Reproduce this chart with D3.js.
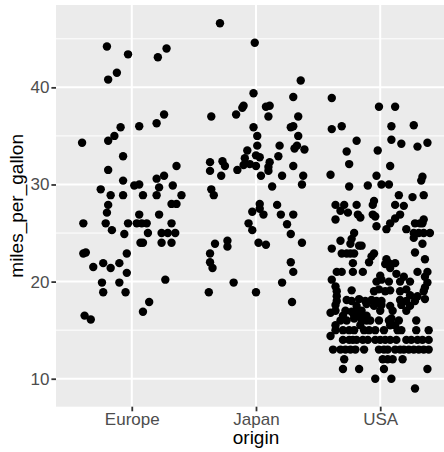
<!DOCTYPE html>
<html>
<head>
<meta charset="utf-8">
<script src="https://cdn.jsdelivr.net/npm/d3@7"></script>
<style>
  html, body { margin: 0; padding: 0; background: #ffffff; }
  svg { display: block; }
</style>
</head>
<body>
<svg id="chart" width="444" height="452"></svg>
<script>
// ---- data: [jitter offset in category units, miles_per_gallon]
const origins = ["Europe", "Japan", "USA"];
const yTicks = [10, 20, 30, 40];
const yMinor = [15, 25, 35, 45];

const europe = [
  [-0.20,44.2],[-0.03,43.4],[0.28,44.0],[0.21,43.1],[-0.12,41.5],[-0.19,40.8],
  [0.26,37.2],[0.20,36.3],[-0.09,35.9],[0.06,36.0],[-0.14,35.0],[-0.19,34.5],
  [-0.40,34.3],[-0.07,32.9],[0.36,31.9],[-0.19,31.5],[0.26,30.9],[0.20,30.6],
  [-0.07,30.4],[0.02,29.9],[0.06,30.0],[0.22,29.7],[0.33,29.9],[-0.25,29.5],
  [-0.17,28.9],[-0.07,28.9],[0.09,28.9],[0.20,28.9],[0.40,28.9],[-0.19,27.9],
  [0.32,28.0],[0.36,28.0],[-0.20,27.1],[0.06,26.9],[0.22,26.9],[-0.39,26.0],
  [-0.21,26.0],[-0.03,26.0],[0.04,26.0],[0.08,26.0],[0.12,26.0],[0.32,26.0],
  [-0.16,25.3],[-0.06,24.9],[0.13,25.0],[0.24,25.0],[0.29,25.0],[0.35,25.0],
  [0.07,24.0],[0.09,24.0],[0.24,24.0],[0.32,24.0],[-0.39,22.9],[-0.37,23.0],
  [-0.04,22.9],[-0.23,21.9],[-0.10,21.9],[-0.31,21.5],[-0.17,21.4],[-0.04,20.9],
  [-0.24,19.9],[-0.10,19.9],[0.27,20.2],[-0.23,18.9],[-0.05,18.9],[0.14,17.9],
  [0.09,16.9],[-0.38,16.5],[-0.33,16.1]
];

const japan = [
  [-0.29,46.6],[-0.01,44.6],[0.36,40.7],[-0.02,39.4],[0.30,39.0],[-0.11,37.9],
  [-0.10,38.1],[0.08,38.0],[0.11,38.1],[-0.36,37.0],[-0.16,37.2],[0.10,37.0],
  [0.34,37.0],[-0.02,35.9],[0.28,35.9],[0.30,36.0],[0.01,35.0],[0.34,35.0],
  [0.01,34.0],[0.19,34.0],[0.31,33.7],[0.33,34.0],[0.39,33.6],[-0.07,33.5],
  [-0.09,32.7],[0.00,33.0],[0.03,32.8],[0.18,32.9],[-0.37,32.3],[-0.27,32.4],
  [-0.25,31.9],[-0.10,32.0],[-0.05,32.1],[0.00,31.9],[0.11,32.3],[0.10,31.8],
  [0.10,31.4],[0.30,31.9],[-0.15,31.5],[-0.37,31.4],[-0.28,30.9],[0.04,30.9],
  [0.21,30.9],[0.38,30.9],[0.37,30.0],[0.13,29.8],[-0.36,29.5],[-0.34,28.9],
  [0.03,28.0],[0.17,27.9],[0.03,27.5],[-0.03,27.2],[0.06,26.9],[0.20,26.9],
  [0.30,26.9],[-0.06,26.0],[0.25,25.9],[-0.03,25.3],[0.28,24.9],[-0.33,23.9],
  [-0.23,24.2],[-0.23,23.6],[0.02,24.0],[0.08,23.8],[0.37,24.0],[-0.37,22.9],
  [-0.37,22.0],[-0.35,21.4],[0.28,22.0],[0.30,21.0],[-0.18,19.9],[0.21,19.9],
  [-0.38,18.9],[0.00,18.9],[0.29,17.9]
];

const usa = [
  [-0.39,38.9],[-0.01,38.0],[0.12,38.0],[-0.39,35.7],[-0.31,36.0],[0.09,36.0],
  [0.27,36.1],[-0.19,34.5],[0.09,34.6],[0.17,34.2],[0.30,33.9],[0.38,34.3],
  [-0.27,33.4],[-0.02,33.5],[-0.25,32.1],[0.08,31.9],[-0.40,31.0],[-0.03,30.9],
  [0.34,30.8],[0.33,30.4],[-0.25,29.8],[-0.10,29.9],[0.01,30.0],[0.07,30.0],
  [0.15,28.9],[0.26,28.7],[0.35,28.9],[-0.36,27.9],[-0.29,27.9],[-0.19,27.9],
  [-0.05,28.3],[-0.06,27.9],[0.12,27.9],[0.19,27.8],[-0.32,27.3],[-0.26,27.1],
  [-0.18,26.9],[-0.16,26.6],[-0.06,26.9],[-0.04,26.7],[0.16,26.9],[0.12,26.5],
  [-0.36,26.4],[0.35,26.4],[0.28,26.0],[0.32,26.0],[0.34,26.0],[0.08,26.0],
  [-0.03,25.7],[0.05,25.4],[0.21,25.4],[0.27,25.0],[0.31,25.0],[0.35,25.0],
  [0.40,25.0],[0.27,24.5],[-0.21,25.0],[-0.23,24.4],[-0.32,24.2],[-0.24,23.9],
  [-0.17,23.7],[-0.15,23.7],[0.34,23.9],[-0.39,23.4],[-0.31,22.9],[-0.27,22.9],
  [-0.24,22.9],[-0.21,22.9],[-0.05,22.9],[-0.07,22.6],[0.28,23.0],[0.36,22.3],
  [-0.09,22.0],[-0.22,21.9],[0.05,22.3],[0.07,21.9],[0.04,21.8],[0.12,21.9],
  [0.08,21.4],[-0.35,21.0],[-0.31,21.0],[-0.22,21.0],[-0.14,21.0],[0.00,20.6],
  [0.13,20.8],[0.30,21.0],[0.38,21.0],[0.19,20.5],[0.36,20.5],
  [-0.39,20.2],[-0.03,20.0],[0.01,20.2],[0.07,20.0],[0.16,20.0],[0.24,20.0],[0.38,19.9],
  [-0.36,19.5],[0.36,19.4],
  [-0.35,19.0],[-0.23,19.1],[-0.05,19.0],[-0.01,19.2],[0.04,19.0],[0.08,19.1],[0.16,19.0],[0.21,19.2],[0.35,19.0],
  [-0.35,18.5],[0.24,18.6],[0.30,18.5],[0.36,18.2],
  [-0.35,18.0],[-0.27,18.1],[-0.23,18.0],[-0.17,18.2],[-0.12,18.0],[-0.07,18.1],[-0.03,18.0],[0.01,18.0],[0.16,18.1],[0.21,18.0],[0.28,18.0],
  [-0.36,17.6],[-0.19,17.5],[-0.11,17.7],[-0.05,17.5],[0.01,17.6],[0.08,17.5],[0.17,17.6],[0.24,17.5],
  [-0.40,16.8],[-0.36,17.0],[-0.28,17.0],[-0.23,16.9],[-0.19,17.0],[-0.15,17.0],[0.00,17.0],[0.10,17.0],[0.21,17.0],
  [-0.30,16.5],[-0.21,16.5],[-0.16,16.5],[-0.11,16.5],
  [-0.32,16.0],[-0.27,16.0],[-0.21,16.2],[-0.15,16.0],[-0.11,16.0],[-0.08,16.0],[-0.01,16.0],[0.07,16.0],[0.09,16.2],[0.15,16.0],[0.29,16.0],
  [-0.36,15.5],[-0.16,15.5],[0.08,15.5],[0.12,15.5],
  [-0.36,15.0],[-0.30,15.0],[-0.25,15.0],[-0.21,15.0],[-0.13,15.0],[-0.09,15.0],[-0.04,15.0],[0.03,15.0],[0.14,15.0],[0.17,15.0],[0.29,15.0],[0.39,15.0],
  [-0.40,14.4],
  [-0.30,14.0],[-0.25,14.0],[-0.22,14.0],[-0.19,14.0],[-0.14,14.0],[-0.10,14.0],[-0.04,14.0],[0.00,14.0],[0.04,14.0],[0.08,14.0],[0.13,14.0],[0.21,14.0],[0.25,14.0],[0.30,14.0],[0.34,14.0],[0.39,14.0],
  [-0.38,13.0],[-0.32,13.0],[-0.28,13.0],[-0.24,13.0],[-0.20,13.0],[-0.13,13.0],[-0.01,13.0],[0.03,13.0],[0.06,13.0],[0.12,13.0],[0.16,13.0],[0.19,13.0],[0.23,13.0],[0.27,13.0],[0.31,13.0],[0.35,13.0],[0.39,13.0],
  [-0.29,12.0],[0.02,12.0],[0.06,12.0],[0.10,12.0],[0.18,12.0],
  [-0.30,11.0],[-0.17,11.0],[0.03,11.0],[0.38,11.0],
  [-0.04,10.0],[0.09,10.0],
  [0.28,9.0]
];

// ---- layout
const W = 444, H = 452;
const panel = { left: 56, right: 456, top: 5, bottom: 406.7 };

const svg = d3.select("#chart");

const x = d3.scalePoint().domain(origins).range([panel.left, panel.right]).padding(0.61);
const y = d3.scaleLinear().domain([7.12, 48.48]).range([panel.bottom, panel.top]);

svg.append("defs").append("clipPath").attr("id", "pclip")
  .append("rect").attr("x", panel.left).attr("y", panel.top)
  .attr("width", panel.right - panel.left).attr("height", panel.bottom - panel.top);

// panel background
svg.append("rect")
  .attr("x", panel.left).attr("y", panel.top)
  .attr("width", panel.right - panel.left).attr("height", panel.bottom - panel.top)
  .attr("fill", "#EBEBEB");

const grid = svg.append("g").attr("clip-path", "url(#pclip)");
grid.selectAll("line.minor").data(yMinor).join("line")
  .attr("x1", panel.left).attr("x2", panel.right)
  .attr("y1", d => y(d)).attr("y2", d => y(d))
  .attr("stroke", "#ffffff").attr("stroke-width", 1);
grid.selectAll("line.majory").data(yTicks).join("line")
  .attr("x1", panel.left).attr("x2", panel.right)
  .attr("y1", d => y(d)).attr("y2", d => y(d))
  .attr("stroke", "#ffffff").attr("stroke-width", 2);
grid.selectAll("line.majorx").data(origins).join("line")
  .attr("x1", d => x(d)).attr("x2", d => x(d))
  .attr("y1", panel.top).attr("y2", panel.bottom)
  .attr("stroke", "#ffffff").attr("stroke-width", 2);

// points
const series = [["Europe", europe], ["Japan", japan], ["USA", usa]];
const pts = [];
series.forEach(([o, arr]) => arr.forEach(([dx, v]) => pts.push({ o, dx, v })));
svg.append("g").attr("clip-path", "url(#pclip)")
  .selectAll("circle").data(pts).join("circle")
  .attr("cx", d => x(d.o) + d.dx * x.step())
  .attr("cy", d => y(d.v))
  .attr("r", 4.2)
  .attr("fill", "#000000");

// axes
const fontFam = "'Liberation Sans', Arial, Helvetica, sans-serif";
const yAxis = svg.append("g")
  .attr("transform", `translate(${panel.left},0)`)
  .call(d3.axisLeft(y).tickValues(yTicks).tickSize(4.6).tickPadding(2));
yAxis.select(".domain").remove();
yAxis.selectAll(".tick line").attr("stroke", "#333333").attr("stroke-width", 1.8);
yAxis.selectAll(".tick text")
  .attr("fill", "#4D4D4D").style("font-family", fontFam).style("font-size", "17px");

const xAxis = svg.append("g")
  .attr("transform", `translate(0,${panel.bottom})`)
  .call(d3.axisBottom(x).tickSize(4.6).tickPadding(2));
xAxis.select(".domain").remove();
xAxis.selectAll(".tick line").attr("stroke", "#333333").attr("stroke-width", 1.8);
xAxis.selectAll(".tick text")
  .attr("fill", "#4D4D4D").style("font-family", fontFam).style("font-size", "17px");

// titles
svg.append("text")
  .attr("x", (panel.left + panel.right) / 2).attr("y", 444)
  .attr("text-anchor", "middle")
  .style("font-family", fontFam).style("font-size", "19px").attr("fill", "#000000")
  .text("origin");

svg.append("text")
  .attr("transform", `translate(23,${(panel.top + panel.bottom) / 2}) rotate(-90)`)
  .attr("text-anchor", "middle")
  .style("font-family", fontFam).style("font-size", "19px").attr("fill", "#000000")
  .text("miles_per_gallon");
</script>
</body>
</html>
